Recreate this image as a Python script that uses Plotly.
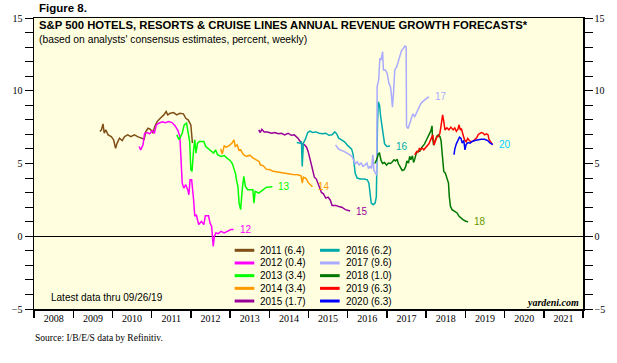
import pandas as pd
import plotly.graph_objects as go

# ---- data (decimal year, percent) ----
t2011 = [2009.68, 2009.72, 2009.76, 2009.79, 2009.83, 2009.89, 2009.97, 2010.03, 2010.08, 2010.12, 2010.18, 2010.25, 2010.31, 2010.39, 2010.47, 2010.56, 2010.64, 2010.72, 2010.81, 2010.85, 2010.91, 2010.97, 2011.03, 2011.08, 2011.14, 2011.22, 2011.31, 2011.37, 2011.41, 2011.47, 2011.56, 2011.64, 2011.72, 2011.81, 2011.87, 2011.93, 2012.0, 2012.04]
v2011 = [7.2, 7.31, 7.72, 7.08, 7.31, 6.97, 6.85, 6.63, 6.05, 6.4, 6.74, 6.58, 6.85, 6.97, 6.85, 6.97, 6.85, 6.74, 6.67, 7.2, 7.42, 7.35, 7.08, 7.54, 7.88, 8.11, 8.34, 8.57, 8.34, 8.45, 8.5, 8.34, 8.45, 8.41, 8.11, 8.0, 7.65, 6.4]

t2012 = [2010.68, 2010.72, 2010.78, 2010.82, 2010.89, 2010.95, 2011.02, 2011.07, 2011.12, 2011.18, 2011.27, 2011.35, 2011.43, 2011.52, 2011.6, 2011.67, 2011.72, 2011.75, 2011.78, 2011.82, 2011.87, 2011.92, 2011.95, 2011.98, 2012.02, 2012.07, 2012.1, 2012.14, 2012.2, 2012.27, 2012.33, 2012.37, 2012.45, 2012.49, 2012.53, 2012.57, 2012.6, 2012.64, 2012.7, 2012.77, 2012.85, 2012.93, 2013.02, 2013.09]
v2012 = [6.17, 5.94, 6.28, 7.08, 7.13, 7.04, 7.26, 7.08, 7.65, 7.77, 7.86, 7.81, 7.88, 7.81, 7.58, 7.26, 6.85, 5.48, 3.65, 3.31, 3.54, 3.2, 2.85, 3.88, 3.88, 2.51, 1.37, 1.48, 0.8, 1.02, 0.8, 1.41, 1.41, 0.91, 0.68, -0.69, 0.0, 0.23, 0.18, 0.34, 0.23, 0.34, 0.46, 0.46]

t2013 = [2011.64, 2011.7, 2011.78, 2011.83, 2011.89, 2011.93, 2011.97, 2012.0, 2012.03, 2012.07, 2012.1, 2012.13, 2012.17, 2012.22, 2012.33, 2012.38, 2012.45, 2012.53, 2012.58, 2012.63, 2012.68, 2012.77, 2012.85, 2012.92, 2013.0, 2013.06, 2013.1, 2013.14, 2013.17, 2013.2, 2013.23, 2013.27, 2013.31, 2013.35, 2013.39, 2013.45, 2013.53, 2013.58, 2013.61, 2013.64, 2013.73, 2013.79, 2013.85, 2013.92, 2014.0, 2014.08]
v2013 = [6.97, 6.63, 7.08, 7.65, 7.77, 7.13, 6.51, 4.57, 4.46, 5.94, 6.63, 5.71, 6.4, 6.51, 6.51, 6.17, 5.99, 5.83, 5.71, 5.94, 5.6, 5.48, 5.55, 5.37, 5.21, 4.98, 4.61, 4.29, 3.77, 3.43, 2.28, 1.83, 3.2, 4.11, 3.43, 3.2, 3.2, 3.2, 2.28, 3.08, 2.97, 3.08, 3.2, 3.36, 3.38, 3.4]

t2014 = [2012.76, 2012.8, 2012.85, 2012.9, 2012.97, 2013.05, 2013.1, 2013.13, 2013.18, 2013.23, 2013.27, 2013.34, 2013.42, 2013.5, 2013.59, 2013.67, 2013.74, 2013.77, 2013.85, 2013.92, 2014.02, 2014.1, 2014.23, 2014.35, 2014.48, 2014.6, 2014.73, 2014.81, 2014.84, 2014.87, 2014.94, 2014.99, 2015.04, 2015.1]
v2014 = [5.99, 5.66, 6.21, 6.12, 6.21, 6.4, 6.63, 6.17, 6.28, 5.89, 5.94, 5.6, 5.48, 5.57, 5.37, 5.25, 5.14, 4.91, 4.84, 4.61, 4.57, 4.46, 4.39, 4.34, 4.3, 4.25, 4.23, 4.16, 3.66, 4.07, 3.97, 3.7, 3.54, 3.4]

t2015 = [2013.73, 2013.77, 2013.81, 2013.87, 2013.95, 2014.06, 2014.14, 2014.23, 2014.31, 2014.39, 2014.48, 2014.56, 2014.64, 2014.73, 2014.79, 2014.84, 2014.9, 2014.95, 2014.99, 2015.04, 2015.08, 2015.12, 2015.15, 2015.2, 2015.24, 2015.29, 2015.33, 2015.38, 2015.44, 2015.5, 2015.56, 2015.6, 2015.69, 2015.77, 2015.85, 2015.94, 2016.06]
v2015 = [7.31, 7.13, 7.35, 7.17, 7.17, 7.08, 7.13, 7.04, 7.08, 6.97, 7.08, 6.94, 6.97, 6.74, 6.51, 6.35, 6.28, 6.12, 5.83, 5.37, 4.85, 4.39, 4.06, 3.93, 3.65, 3.31, 3.01, 2.92, 2.62, 2.69, 2.46, 2.12, 2.12, 2.05, 2.0, 1.83, 1.73]

t2016 = [2014.7, 2014.79, 2014.82, 2014.84, 2014.87, 2014.92, 2014.98, 2015.04, 2015.1, 2015.19, 2015.27, 2015.35, 2015.44, 2015.52, 2015.6, 2015.67, 2015.72, 2015.77, 2015.84, 2015.92, 2015.99, 2016.05, 2016.1, 2016.14, 2016.16, 2016.19, 2016.24, 2016.32, 2016.42, 2016.5, 2016.54, 2016.57, 2016.6, 2016.65, 2016.7, 2016.73, 2016.74, 2016.76, 2016.78, 2016.81, 2016.84, 2016.88, 2016.91, 2016.94, 2017.0, 2017.08]
v2016 = [6.44, 6.4, 6.51, 4.8, 6.4, 6.67, 7.13, 7.22, 7.13, 7.17, 7.08, 7.04, 7.08, 6.94, 6.97, 7.17, 7.04, 6.74, 6.63, 6.49, 6.26, 6.12, 5.99, 5.6, 4.91, 4.34, 4.0, 3.93, 3.93, 3.88, 3.65, 2.97, 2.28, 2.17, 2.28, 2.74, 5.48, 7.77, 9.25, 9.03, 8.23, 7.54, 6.85, 6.35, 6.17, 6.2]

t2017 = [2015.69, 2015.77, 2015.9, 2015.98, 2016.06, 2016.12, 2016.15, 2016.19, 2016.24, 2016.29, 2016.34, 2016.39, 2016.44, 2016.49, 2016.53, 2016.57, 2016.61, 2016.64, 2016.67, 2016.71, 2016.74, 2016.75, 2016.79, 2016.82, 2016.85, 2016.89, 2016.91, 2016.96, 2017.01, 2017.05, 2017.09, 2017.11, 2017.14, 2017.17, 2017.2, 2017.25, 2017.29, 2017.34, 2017.37, 2017.42, 2017.46, 2017.49, 2017.5, 2017.54, 2017.58, 2017.62, 2017.66, 2017.71, 2017.75, 2017.79, 2017.83, 2017.87, 2017.91, 2017.96, 2018.02, 2018.07]
v2017 = [6.28, 5.99, 5.83, 5.71, 5.6, 5.44, 5.21, 4.98, 5.12, 4.89, 5.03, 4.8, 4.89, 5.03, 4.66, 4.8, 4.66, 5.6, 4.52, 4.29, 4.2, 10.28, 10.74, 12.23, 12.11, 12.68, 11.43, 11.43, 11.15, 10.51, 10.28, 9.83, 8.87, 9.94, 11.43, 11.66, 12.0, 12.57, 12.75, 12.91, 13.07, 13.03, 7.54, 7.4, 7.77, 8.0, 8.41, 8.23, 8.45, 8.68, 9.0, 9.14, 9.25, 9.37, 9.5, 9.6]

t2018 = [2016.69, 2016.74, 2016.78, 2016.81, 2016.85, 2016.89, 2016.94, 2016.99, 2017.04, 2017.09, 2017.14, 2017.18, 2017.22, 2017.26, 2017.29, 2017.34, 2017.39, 2017.44, 2017.48, 2017.51, 2017.55, 2017.58, 2017.61, 2017.65, 2017.68, 2017.71, 2017.75, 2017.79, 2017.84, 2017.88, 2017.92, 2017.96, 2018.0, 2018.05, 2018.09, 2018.12, 2018.15, 2018.16, 2018.19, 2018.23, 2018.27, 2018.31, 2018.35, 2018.38, 2018.41, 2018.42, 2018.45, 2018.49, 2018.53, 2018.57, 2018.59, 2018.62, 2018.66, 2018.72, 2018.79, 2018.84, 2018.89, 2018.94, 2019.01, 2019.07]
v2018 = [5.0, 5.26, 5.67, 5.71, 5.21, 5.0, 5.07, 4.89, 5.03, 5.0, 5.12, 5.26, 5.17, 5.3, 5.0, 4.75, 4.52, 4.57, 4.8, 5.17, 5.03, 5.49, 5.26, 5.53, 5.07, 5.3, 5.71, 5.85, 5.85, 6.08, 6.21, 6.35, 6.58, 6.86, 7.13, 7.24, 7.59, 6.86, 6.26, 6.63, 6.86, 6.97, 6.86, 6.58, 5.71, 5.03, 4.45, 4.34, 4.06, 3.65, 2.74, 2.06, 1.83, 1.74, 1.6, 1.37, 1.23, 1.14, 1.03, 1.0]

t2019 = [2017.71, 2017.76, 2017.8, 2017.83, 2017.86, 2017.9, 2017.94, 2017.99, 2018.03, 2018.07, 2018.1, 2018.14, 2018.17, 2018.2, 2018.24, 2018.28, 2018.32, 2018.35, 2018.38, 2018.42, 2018.45, 2018.48, 2018.53, 2018.58, 2018.63, 2018.69, 2018.73, 2018.77, 2018.81, 2018.84, 2018.87, 2018.9, 2018.94, 2018.98, 2019.02, 2019.06, 2019.1, 2019.15, 2019.2, 2019.24, 2019.29, 2019.33, 2019.37, 2019.41, 2019.45, 2019.49, 2019.54, 2019.58, 2019.6, 2019.64, 2019.69]
v2019 = [5.6, 5.83, 5.8, 6.06, 5.94, 6.06, 5.94, 6.08, 6.22, 6.35, 6.54, 6.86, 6.97, 6.28, 6.51, 6.86, 6.86, 7.08, 7.59, 8.34, 7.88, 7.31, 7.45, 7.31, 7.5, 7.31, 7.45, 7.22, 7.36, 7.66, 7.31, 7.4, 6.97, 6.63, 6.49, 6.72, 6.58, 6.49, 6.54, 6.68, 6.77, 7.0, 7.09, 7.13, 7.09, 6.97, 7.04, 6.97, 6.68, 6.49, 6.3]

t2020 = [2018.71, 2018.73, 2018.77, 2018.81, 2018.85, 2018.89, 2018.92, 2018.96, 2018.99, 2019.02, 2019.07, 2019.12, 2019.17, 2019.24, 2019.32, 2019.4, 2019.49, 2019.57, 2019.62, 2019.67, 2019.7]
v2020 = [5.6, 5.99, 6.35, 6.58, 6.81, 6.72, 6.4, 6.58, 5.94, 6.31, 6.44, 6.4, 6.51, 6.58, 6.63, 6.67, 6.67, 6.58, 6.44, 6.33, 6.3]

series_names = ["2011", "2012", "2013", "2014", "2015", "2016", "2017", "2018", "2019", "2020"]
legend_values = ["6.4", "0.4", "3.4", "3.4", "1.7", "6.2", "9.6", "1.0", "6.3", "6.3"]
end_labels = ["", "12", "13", "14", "15", "16", "17", "18", "", "20"]
colors = ["#7F4F16", "#FF00FF", "#00FF00", "#FF9900", "#990099",
          "#00AAAA", "#AAAAFF", "#007700", "#FF0000", "#0000FF"]
label_colors = ["#7F4F16", "#FF00FF", "#00FF00", "#FF9900", "#990099",
                "#00AAAA", "#AAAAFF", "#669900", "#FF0000", "#00CCFF"]
times = [t2011, t2012, t2013, t2014, t2015, t2016, t2017, t2018, t2019, t2020]
values = [v2011, v2012, v2013, v2014, v2015, v2016, v2017, v2018, v2019, v2020]
year_ticks = list(range(2008, 2023))


def to_date(yr):
    return pd.Timestamp("2008-01-01") + pd.to_timedelta((yr - 2008) * 365.25, unit="D")


fig = go.Figure()
for name, c, t, v in zip(series_names, colors, times, values):
    fig.add_trace(go.Scatter(x=[to_date(y) for y in t], y=v, mode="lines",
                             line=dict(color=c, width=1.5), name=name,
                             showlegend=False, hoverinfo="skip"))

# invisible trace for right-hand axis
fig.add_trace(go.Scatter(x=[to_date(2008)], y=[0], yaxis="y2", mode="markers",
                         marker=dict(opacity=0), showlegend=False, hoverinfo="skip"))

# end labels
for lab, c, t, v in zip(end_labels, label_colors, times, values):
    if lab:
        fig.add_annotation(x=to_date(t[-1]), y=v[-1], text=lab, showarrow=False,
                           xanchor="left", yanchor="middle", xshift=4,
                           font=dict(family="Arial, Liberation Sans", size=10, color=c))

W, H = 617, 363
L, R, T, B = 29.5, 589, 18, 309.5
pw, ph = R - L, B - T


def px(x):
    return (x - L) / pw


def py(y):
    return (B - y) / ph


# manual two-column legend
for i, (name, c, val) in enumerate(zip(series_names, colors, legend_values)):
    col, row = divmod(i, 5)
    x0 = 234 if col == 0 else 321
    yy = 250.7 + row * 12.7
    fig.add_shape(type="line", xref="paper", yref="paper",
                  x0=px(x0), x1=px(x0 + 20), y0=py(yy), y1=py(yy),
                  line=dict(color=c, width=3))
    fig.add_annotation(xref="paper", yref="paper", x=px(x0 + 24), y=py(yy),
                       text=f"{name} ({val})", showarrow=False,
                       xanchor="left", yanchor="middle",
                       font=dict(family="Arial, Liberation Sans", size=10, color="black"))

# titles and notes
fig.add_annotation(xref="paper", yref="paper", x=px(33), y=py(25.5),
                   text="<b>S&P 500 HOTELS, RESORTS & CRUISE LINES ANNUAL REVENUE GROWTH FORECASTS*</b>",
                   showarrow=False, xanchor="left", yanchor="middle",
                   font=dict(family="Arial, Liberation Sans", size=11.3, color="black"))
fig.add_annotation(xref="paper", yref="paper", x=px(33), y=py(40),
                   text="(based on analysts' consensus estimates, percent, weekly)",
                   showarrow=False, xanchor="left", yanchor="middle",
                   font=dict(family="Arial, Liberation Sans", size=10.3, color="black"))
fig.add_annotation(xref="paper", yref="paper", x=px(33), y=py(8),
                   text="<b>Figure 8.</b>", showarrow=False, xanchor="left", yanchor="middle",
                   font=dict(family="Arial, Liberation Sans", size=11.5, color="black"))
fig.add_annotation(xref="paper", yref="paper", x=px(45), y=py(297.5),
                   text="Latest data thru 09/26/19", showarrow=False,
                   xanchor="left", yanchor="middle",
                   font=dict(family="Arial, Liberation Sans", size=10, color="black"))
fig.add_annotation(xref="paper", yref="paper", x=px(587), y=py(303),
                   text="<b><i>yardeni.com</i></b>", showarrow=False,
                   xanchor="right", yanchor="middle",
                   font=dict(family="Liberation Serif, Times New Roman", size=10, color="black"))
fig.add_annotation(xref="paper", yref="paper", x=px(28), y=py(339),
                   text="Source: I/B/E/S data by Refinitiv.", showarrow=False,
                   xanchor="left", yanchor="middle",
                   font=dict(family="Liberation Serif, Times New Roman", size=9.5, color="black"))

axis_font = dict(family="Liberation Serif, Times New Roman", size=10, color="black")
yax = dict(range=[-5, 15], tickmode="linear", tick0=-5, dtick=5, ticks="outside",
           ticklen=8, tickcolor="black", tickwidth=1, showgrid=False,
           showline=True, linecolor="black", linewidth=1.5, tickfont=axis_font,
           minor=dict(dtick=1, ticks="outside", ticklen=8, tickcolor="black", tickwidth=1),
           fixedrange=True)

fig.update_layout(
    width=W, height=H,
    margin=dict(l=L, r=W - R, t=T, b=H - B),
    paper_bgcolor="white", plot_bgcolor="#FFFFE0",
    showlegend=False,
    xaxis=dict(type="date", range=[to_date(year_ticks[0]), to_date(year_ticks[-1])],
               tick0="2008-01-01", dtick="M12", tickformat="%Y", ticklabelmode="period",
               ticks="outside", ticklen=7, tickcolor="black", tickwidth=1.5,
               ticklabelstandoff=-8,
               showline=True, linecolor="black", linewidth=1.5, mirror=True,
               showgrid=False, tickfont=axis_font, fixedrange=True),
    yaxis=dict(**yax, side="left", mirror=True, zeroline=True,
               zerolinecolor="black", zerolinewidth=1.5),
    yaxis2=dict(**yax, side="right", overlaying="y", zeroline=False),
)

fig.write_html("out.html", config={"displayModeBar": False, "staticPlot": True},
               post_script="document.body.style.margin='0';")
